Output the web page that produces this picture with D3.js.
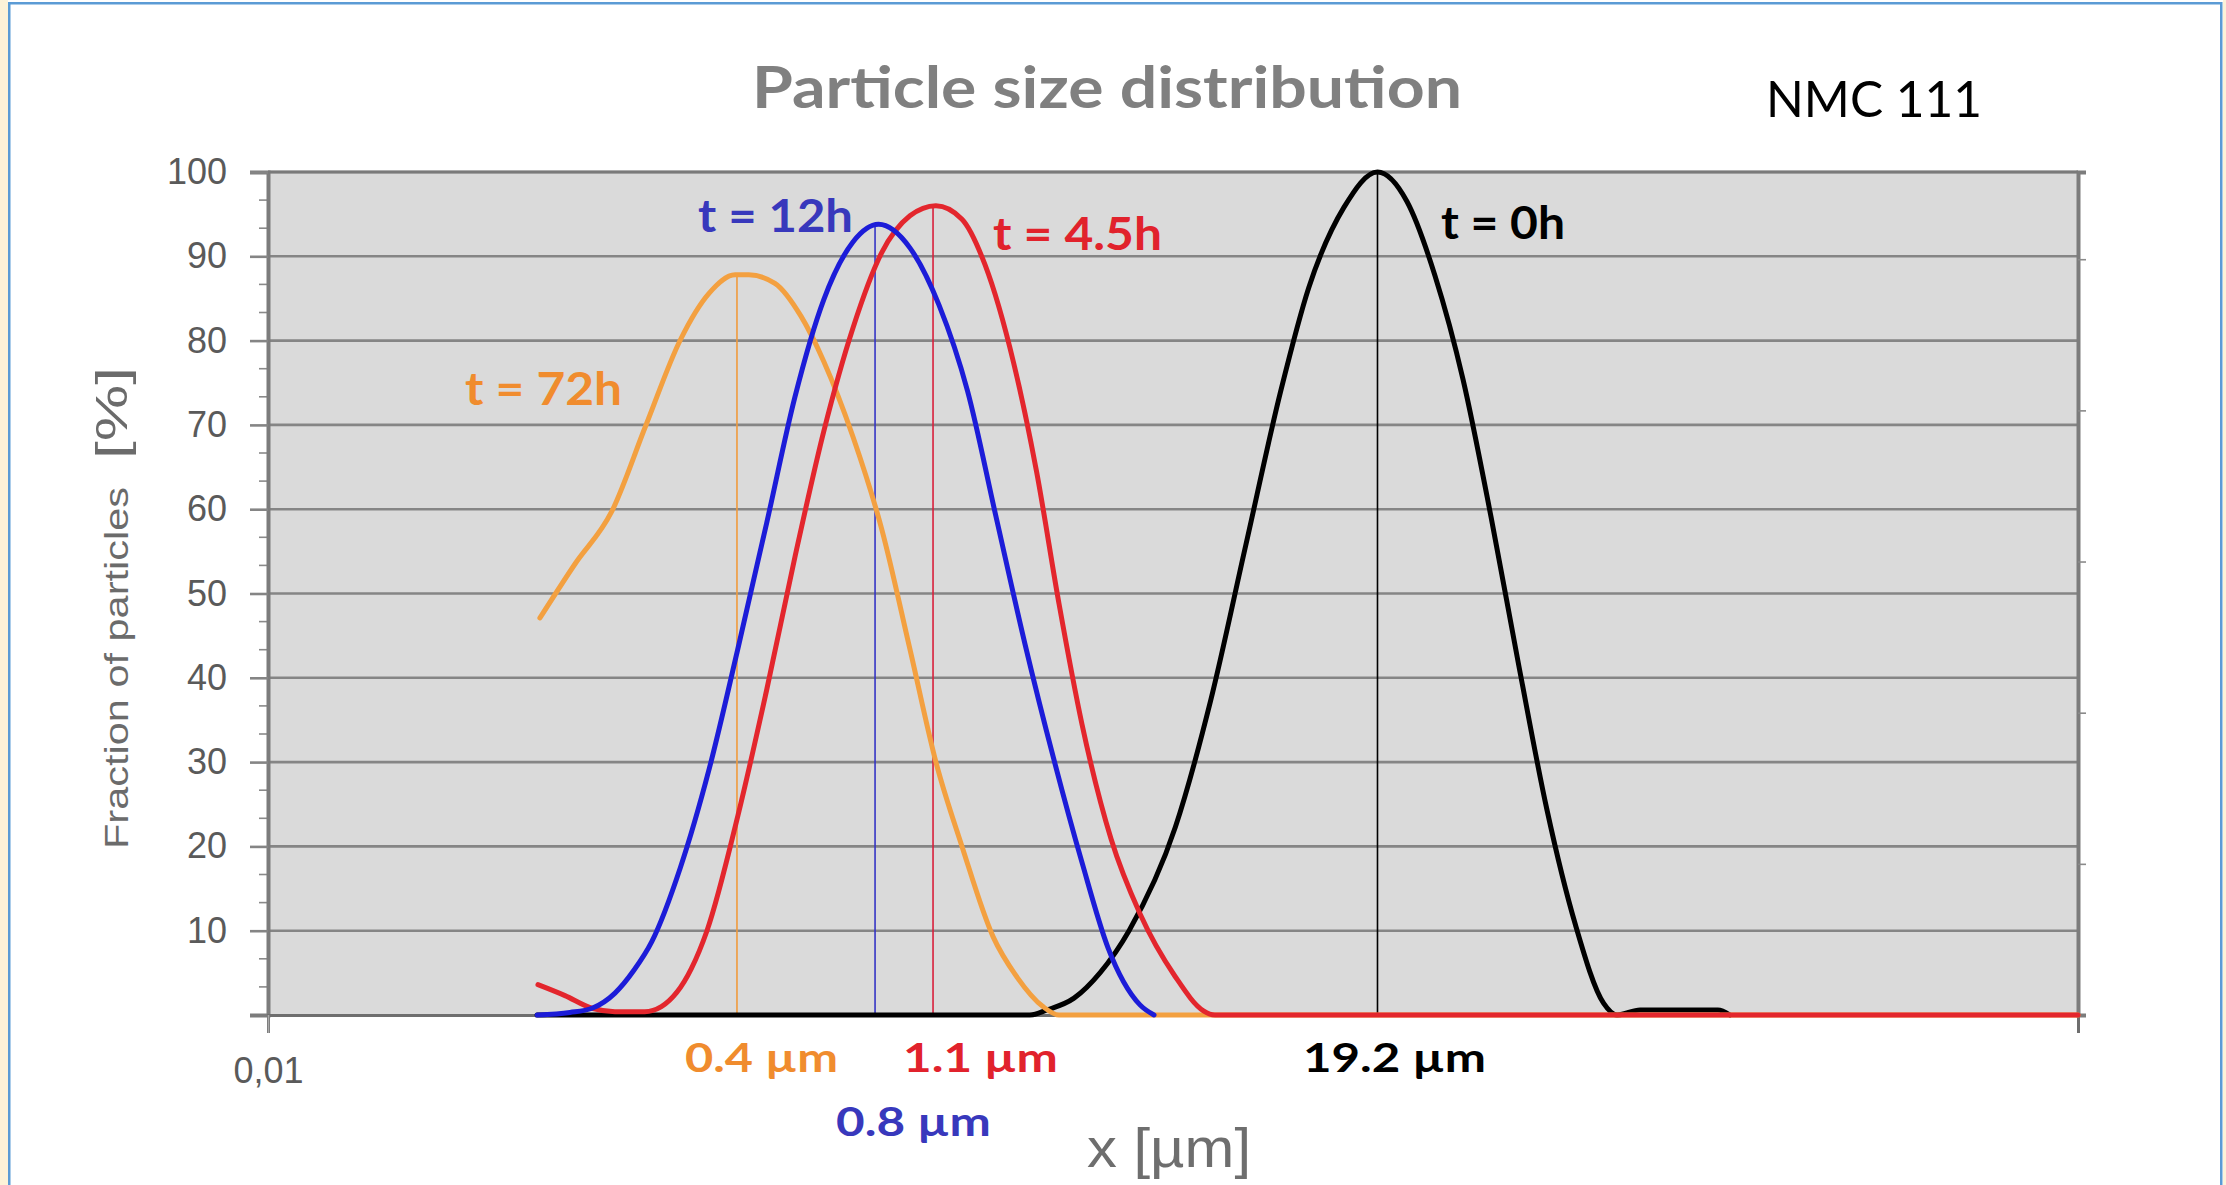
<!DOCTYPE html>
<html>
<head>
<meta charset="utf-8">
<script src="https://cdn.jsdelivr.net/npm/d3@7"></script>
<style>
  html, body { margin: 0; padding: 0; background: #ffffff; }
  svg { display: block; }
</style>
</head>
<body>
<svg id="chart" width="2226" height="1185"></svg>
<script>
// ---------------- DATA ----------------
const seriesNames = ["t = 0h", "t = 12h", "t = 4.5h", "t = 72h"];

// particle size x [µm] and fraction of particles [%]
const x0h   = [0.0652, 2.02, 2.276, 2.748, 3.293, 4.032, 5.569, 7.110, 9.080, 11.60, 14.11, 18.02, 22.77, 27.96, 33.99, 41.32, 50.22, 61.05, 74.20, 90.44, 110.0, 120.9, 141.9, 244.0, 265.3];
const y0h   = [0, 0, 0.6, 2.0, 5.0, 10.0, 22.3, 37.2, 55.6, 74.0, 86.3, 95.8, 100, 96.5, 87.7, 75.4, 59.1, 41.3, 24.3, 10.7, 1.4, 0, 0.6, 0.6, 0];

const x12h  = [0.0652, 0.0820, 0.0956, 0.1122, 0.128, 0.145, 0.177, 0.216, 0.264, 0.323, 0.393, 0.481, 0.589, 0.704, 0.876, 1.073, 1.309, 1.596, 1.953, 2.385, 2.905, 3.481, 4.352, 4.798];
const y12h  = [0, 0.3, 0.8, 2.6, 5.3, 8.7, 17.5, 29.1, 43.4, 58.4, 73.3, 84.9, 91.7, 93.8, 91.0, 84.2, 74.0, 59.1, 44.0, 30.4, 18.1, 8.0, 1.2, 0];

const x45h  = [0.0656, 0.0792, 0.0956, 0.1122, 0.138, 0.155, 0.191, 0.213, 0.264, 0.323, 0.393, 0.481, 0.589, 0.719, 0.876, 1.050, 1.259, 1.478, 1.803, 2.116, 2.475, 2.905, 3.556, 4.352, 5.554, 6.773, 7.338, 3000];
const y45h  = [3.6, 2.3, 0.8, 0.4, 0.4, 1.0, 5.5, 10.0, 23.6, 38.6, 54.3, 69.3, 81.5, 90.4, 94.8, 96.0, 94.4, 89.0, 77.4, 64.5, 48.8, 34.5, 20.9, 12.0, 4.6, 0.5, 0, 0];

const x72h  = [0.0665, 0.0849, 0.1096, 0.139, 0.177, 0.216, 0.259, 0.285, 0.342, 0.410, 0.481, 0.589, 0.719, 0.876, 1.050, 1.259, 1.563, 1.847, 2.213, 2.475, 3000];
const y72h  = [47.1, 53.5, 59.7, 69.9, 80.1, 85.6, 87.8, 87.8, 86.8, 82.9, 77.5, 68.6, 57.7, 43.4, 30.0, 20.0, 9.3, 4.5, 1.0, 0, 0];

// peak (mode) markers, same order as seriesNames
const markerX     = [22.77, 0.687, 1.029, 0.2625];
const markerPeak  = [100, 93.8, 96.0, 87.8];
const markerLabel = ["19.2 µm", "0.8 µm", "1.1 µm", "0.4 µm"];

// axis ticks
const yTickValues = [10, 20, 30, 40, 50, 60, 70, 80, 90, 100];
const xTickValues = [0.01];
const xTickLabels = ["0,01"];
const rightTickValues = [1, 2, 3, 4, 5];

// ---------------- STYLE / LAYOUT ----------------
const W = 2226, H = 1185;
const plot = { left: 268, right: 2078, top: 172, bottom: 1015 };
const colors = ["#000000", "#1c1cd8", "#e3262d", "#f3a040"];
const markerColors = ["#000000", "#3434c4", "#d8203c", "#f09a3c"];
const textColors = ["#000000", "#3838bc", "#e1222c", "#f08c2e"];

const svg = d3.select("#chart");

// page frame
svg.append("rect").attr("x", 0).attr("y", 0).attr("width", 8).attr("height", H).attr("fill", "#fdf2d8");
svg.append("rect").attr("x", 2223).attr("y", 0).attr("width", 3).attr("height", H).attr("fill", "#fdf2d8");
svg.append("rect").attr("x", 8).attr("y", 2).attr("width", 2214).attr("height", 2.5).attr("fill", "#5b9bd5");
svg.append("rect").attr("x", 8).attr("y", 2).attr("width", 2.5).attr("height", H).attr("fill", "#5b9bd5");
svg.append("rect").attr("x", 2220).attr("y", 2).attr("width", 2.5).attr("height", H).attr("fill", "#5b9bd5");

// scales
const x = d3.scaleLog().domain([0.01, 3000]).range([plot.left, plot.right]);
const y = d3.scaleLinear().domain([0, 100]).range([plot.bottom, plot.top]);
const yRight = d3.scaleLinear().domain([0, 5.577]).range([plot.bottom, plot.top]);

// plot background
svg.append("rect")
  .attr("x", plot.left).attr("y", plot.top)
  .attr("width", plot.right - plot.left).attr("height", plot.bottom - plot.top)
  .attr("fill", "#dadada");

// horizontal gridlines
svg.append("g").selectAll("line").data(yTickValues).join("line")
  .attr("x1", plot.left).attr("x2", plot.right)
  .attr("y1", d => y(d)).attr("y2", d => y(d))
  .attr("stroke", "#858585").attr("stroke-width", 2.6);

// minor y ticks
const minorTicks = d3.range(1, 30).filter(i => i % 3 !== 0).map(i => i * 10 / 3);
svg.append("g").selectAll("line").data(minorTicks).join("line")
  .attr("x1", plot.left - 9).attr("x2", plot.left)
  .attr("y1", d => y(d)).attr("y2", d => y(d))
  .attr("stroke", "#8a8a8a").attr("stroke-width", 1.6);

// left axis
const yAxis = svg.append("g").attr("transform", `translate(${plot.left},0)`)
  .call(d3.axisLeft(y).tickValues(yTickValues).tickSize(18).tickPadding(23).tickFormat(d => d));
yAxis.select(".domain").attr("stroke", "#7c7c7c").attr("stroke-width", 4);
yAxis.selectAll(".tick line").attr("stroke", "#858585").attr("stroke-width", 2.6);
yAxis.selectAll(".tick text")
  .attr("fill", "#5a5a5a")
  .style("font-family", "'Liberation Sans', Arial, sans-serif")
  .style("font-size", "36px");

// right side axis (tick marks only)
const rAxis = svg.append("g").attr("transform", `translate(${plot.right},0)`)
  .call(d3.axisRight(yRight).tickValues(rightTickValues).tickSize(8).tickFormat(""));
rAxis.select(".domain").attr("stroke", "#7c7c7c").attr("stroke-width", 4);
rAxis.selectAll(".tick line").attr("stroke", "#8a8a8a").attr("stroke-width", 1.6);

// top border
svg.append("line").attr("x1", plot.left).attr("x2", plot.right)
  .attr("y1", plot.top).attr("y2", plot.top)
  .attr("stroke", "#7a7a7a").attr("stroke-width", 3);

// bottom axis
const xAxis = svg.append("g").attr("transform", `translate(0,${plot.bottom})`)
  .call(d3.axisBottom(x).tickValues(xTickValues).tickSize(18).tickPadding(24)
        .tickFormat((d, i) => xTickLabels[i]));
xAxis.select(".domain").attr("stroke", "#6e6e6e").attr("stroke-width", 3);
xAxis.selectAll(".tick line").attr("stroke", "#a8a8a8").attr("stroke-width", 1.6);
xAxis.selectAll(".tick text")
  .attr("fill", "#5a5a5a")
  .style("font-family", "'Liberation Sans', Arial, sans-serif")
  .style("font-size", "36px");

// peak marker lines
svg.append("g").selectAll("line").data(markerX).join("line")
  .attr("x1", d => x(d)).attr("x2", d => x(d))
  .attr("y1", (d, i) => y(markerPeak[i])).attr("y2", y(0))
  .attr("stroke", (d, i) => markerColors[i]).attr("stroke-width", 1.6);

// curves
const seriesData = [
  d3.zip(x0h, y0h), d3.zip(x12h, y12h), d3.zip(x45h, y45h), d3.zip(x72h, y72h)
];
const line = d3.line().x(d => x(d[0])).y(d => y(d[1])).curve(d3.curveMonotoneX);
const drawOrder = [0, 3, 2, 1];
svg.append("g").selectAll("path").data(drawOrder).join("path")
  .attr("d", i => line(seriesData[i]))
  .attr("fill", "none")
  .attr("stroke", i => colors[i])
  .attr("stroke-width", 5)
  .attr("stroke-linejoin", "round")
  .attr("stroke-linecap", "round");

// text helper
function label(txt, px, py, opts) {
  const t = svg.append("text")
    .attr("x", px).attr("y", py)
    .attr("fill", opts.fill || "#000")
    .style("font-family", opts.family || "Lato, 'Open Sans', sans-serif")
    .style("font-size", opts.size + "px")
    .style("font-weight", opts.weight || "normal")
    .text(txt);
  if (opts.len) t.attr("textLength", opts.len).attr("lengthAdjust", "spacingAndGlyphs");
  if (opts.transform) t.attr("transform", opts.transform);
  return t;
}

// title & tag
label("Particle size distribution", 752, 108, { size: 58, weight: "bold", fill: "#808080", len: 710 });
label("NMC 111", 1766, 117, { size: 51, fill: "#000", len: 216 });

// series labels inside plot
const seriesLabelPos = [[1441, 239, 124], [698, 232, 155], [993, 250, 169], [465, 405, 157]];
seriesNames.forEach((n, i) => {
  const p = seriesLabelPos[i];
  label(n, p[0], p[1], { size: 46, weight: "bold", fill: textColors[i], len: p[2] });
});

// peak value labels under axis
const peakLabelPos = [[1303, 1072, 183], [836, 1136, 155], [903, 1072, 155], [685, 1072, 153]];
markerLabel.forEach((n, i) => {
  const p = peakLabelPos[i];
  label(n, p[0], p[1], { size: 40, weight: "bold", fill: textColors[i], len: p[2] });
});

// axis titles
label("x [µm]", 1087, 1167, { size: 56, fill: "#6e6e6e", family: "'Liberation Sans', Arial, sans-serif", len: 164 });
label("Fraction of particles", 0, 0, { size: 34, fill: "#6b6b6b", family: "'Liberation Sans', Arial, sans-serif", len: 362,
  transform: "translate(128,849) rotate(-90)" });
label("[%]", 0, 0, { size: 44, fill: "#6b6b6b", family: "'Liberation Sans', Arial, sans-serif", len: 92,
  transform: "translate(127,459) rotate(-90)" });
</script>
</body>
</html>
